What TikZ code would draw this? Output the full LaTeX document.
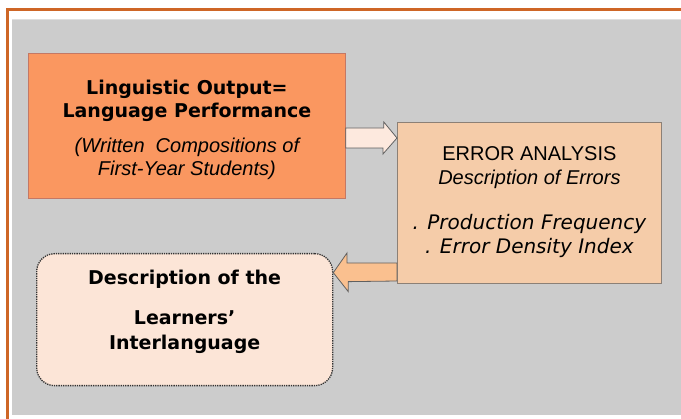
\documentclass[tikz,border=0pt]{standalone}
\usepackage{fontspec}
\setmainfont{DejaVu Sans}
\newfontfamily\arialfont{Liberation Sans}
\usetikzlibrary{calc}

\definecolor{framecol}{RGB}{206,102,38}
\definecolor{panelgray}{RGB}{204,204,204}
\definecolor{outputfill}{RGB}{250,151,96}
\definecolor{outputline}{RGB}{196,120,100}
\definecolor{errorfill}{RGB}{245,204,169}
\definecolor{errorline}{RGB}{140,128,118}
\definecolor{interfill}{RGB}{252,229,215}
\definecolor{arrowpink}{RGB}{253,233,222}
\definecolor{arrowtan}{RGB}{250,192,143}

\newcommand\softnote[1]{{\arialfont\mdseries\itshape\fontsize{20}{23}\selectfont #1}}

\tikzset{
  stagebox/.style={draw=#1, anchor=north west, inner sep=0pt},
  bodytext/.style={anchor=north, align=center, inner sep=0pt},
  blockarrow/.style={draw=gray!75!black, line width=0.8pt, line join=miter}
}

\begin{document}
\begin{tikzpicture}[x=1pt, y=-1pt]
  \clip (0,0) rectangle (681,419);
  \fill[white] (0,0) rectangle (681,419);

  % orange frame and gray panel, both running off the page
  \draw[framecol, line width=3pt] (7,10) rectangle (700,440);
  \fill[panelgray] (12,19) rectangle (681,415);
  \draw[gray!25, line width=1pt] (12,19.5) -- (681,19.5);

  % the three stages
  \node[stagebox=outputline, fill=outputfill, line width=0.8pt, minimum width=317pt, minimum height=145pt] (output) at (28,53) {};
  \node[stagebox=errorline, fill=errorfill, line width=0.8pt, minimum width=264pt, minimum height=161pt] (errors) at (397,122) {};
  \node[stagebox=black!80, fill=interfill, densely dotted, line width=1.3pt, rounded corners=18pt, minimum width=296pt, minimum height=132pt] (interlang) at (36,253) {};

  \node[bodytext, font=\bfseries\fontsize{19}{23}\selectfont] (outputtext) at ([yshift=-27pt]output.north) {%
    Linguistic Output=\\
    Language Performance\\[12pt]
    \softnote{(Written\ \ Compositions of}\\
    \softnote{First-Year Students)}};

  \node[bodytext, font=\fontsize{20}{24}\selectfont] (errortext) at ([yshift=-24pt]errors.north) {%
    {\arialfont ERROR ANALYSIS}\\
    {\arialfont\itshape Description of Errors}\\[21pt]
    {\itshape . Production Frequency}\\
    {\itshape . Error Density Index}};

  \node[bodytext, font=\bfseries\fontsize{19}{23}\selectfont] (intertext) at ([yshift=-17pt]interlang.north) {%
    Description of the\\[17pt]
    Learners’\\[2pt]
    Interlanguage};

  % block arrows between the stages
  \draw[blockarrow, fill=arrowpink] ($(output.north east)+(0,75)$) -- ++(38,0) -- ++(0,-6)
    -- ($(errors.north west)+(0,16)$) -- ++(-14,16) -- ++(0,-6)
    -- ($(output.north east)+(0,95)$) -- cycle;
  \draw[blockarrow, fill=arrowtan] ($(errors.north west)+(0,141)$) -- ++(-50,0) -- ++(0,-10)
    -- ($(interlang.east)+(0,-47)$) -- ++(15,19) -- ++(0,-10)
    -- ($(errors.north west)+(0,159)$) -- cycle;
\end{tikzpicture}
\end{document}
